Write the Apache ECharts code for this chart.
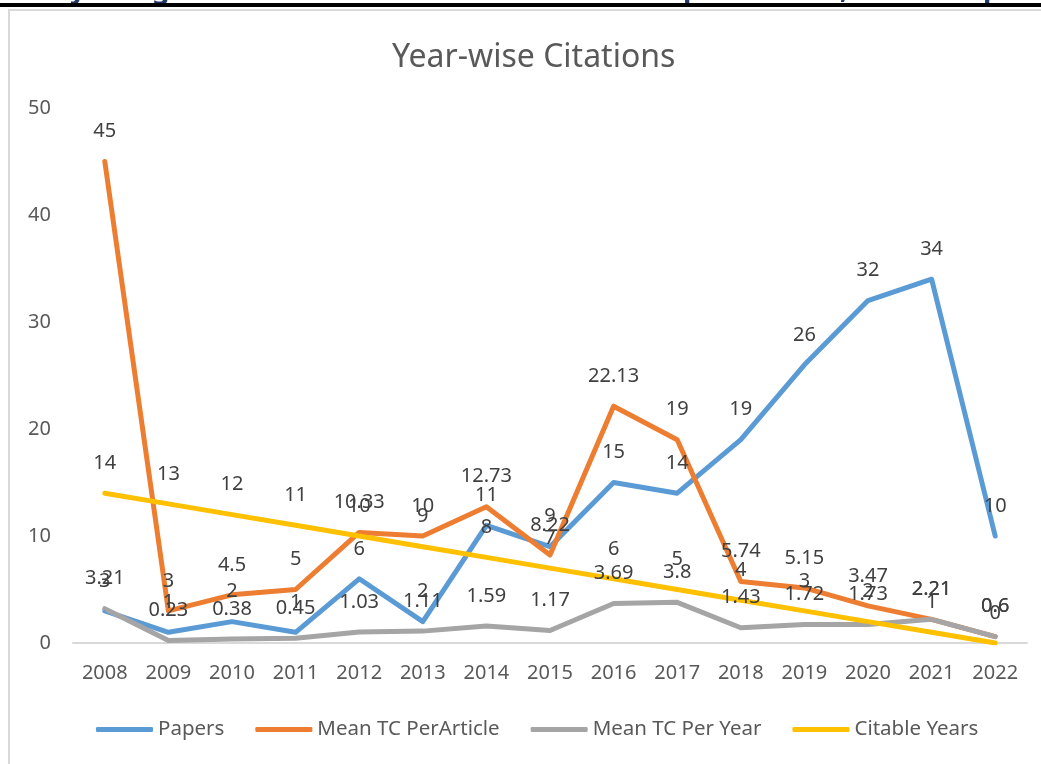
<!DOCTYPE html>
<html>
<head>
<meta charset="utf-8">
<script src="https://cdn.jsdelivr.net/npm/echarts@6/dist/echarts.min.js"></script>
<style>
html,body{margin:0;padding:0;background:#fff;}
#chart{width:1041px;height:764px;}
</style>
</head>
<body>
<div id="chart"></div>
<script>
const years = ['2008','2009','2010','2011','2012','2013','2014','2015','2016','2017','2018','2019','2020','2021','2022'];
const papers = [3,1,2,1,6,2,11,9,15,14,19,26,32,34,10];
const meanTCPerArticle = [45,3,4.5,5,10.33,10,12.73,8.22,22.13,19,5.74,5.15,3.47,2.21,0.6];
const meanTCPerYear = [3.21,0.23,0.38,0.45,1.03,1.11,1.59,1.17,3.69,3.8,1.43,1.72,1.73,2.21,0.6];
const citableYears = [14,13,12,11,10,9,8,7,6,5,4,3,2,1,0];
const yTicks = [0,10,20,30,40,50];

const FONT = '"Noto Sans", "Open Sans", sans-serif';
const chart = echarts.init(document.getElementById('chart'));

function mkSeries(name, data, color) {
  return {
    name: name,
    type: 'line',
    data: data,
    symbol: 'circle',
    symbolSize: 2,
    itemStyle: { color: color },
    lineStyle: { color: color, width: 5, cap: 'round', join: 'round' },
    label: {
      show: true,
      position: 'top',
      distance: 19,
      color: '#404040',
      fontSize: 20,
      fontFamily: FONT
    },
    emphasis: { disabled: true },
    animation: false
  };
}

chart.setOption({
  backgroundColor: '#ffffff',
  animation: false,
  title: {
    text: 'Year-wise Citations',
    left: 387,
    top: 37,
    textStyle: { color: '#595959', fontSize: 32, fontWeight: 'normal', fontFamily: FONT }
  },
  grid: { left: 73, right: 14, top: 108, bottom: 121, containLabel: false },
  legend: {
    top: 714,
    left: 91,
    icon: 'roundRect',
    itemWidth: 57,
    itemHeight: 5,
    itemGap: 31,
    textStyle: { color: '#595959', fontSize: 20.5, fontFamily: FONT },
    data: ['Papers', 'Mean TC PerArticle', 'Mean TC Per Year', 'Citable Years']
  },
  xAxis: {
    type: 'category',
    data: years,
    boundaryGap: true,
    axisTick: { show: false },
    axisLine: { lineStyle: { color: '#d9d9d9', width: 2 } },
    axisLabel: { color: '#595959', fontSize: 20, fontFamily: FONT, margin: 20, interval: 0 }
  },
  yAxis: {
    type: 'value',
    min: yTicks[0],
    max: yTicks[yTicks.length - 1],
    interval: yTicks[1] - yTicks[0],
    splitLine: { show: false },
    axisLine: { show: false },
    axisTick: { show: false },
    axisLabel: { color: '#595959', fontSize: 20, fontFamily: FONT, margin: 22 }
  },
  graphic: [
    { type: 'text', left: 70, top: -24, z: 1, style: { text: 'y', fill: '#1f3864', font: 'bold 28px ' + FONT } },
    { type: 'text', left: 152, top: -24, z: 1, style: { text: 'g', fill: '#1f3864', font: 'bold 28px ' + FONT } },
    { type: 'text', left: 683, top: -24, z: 1, style: { text: 'p', fill: '#1f3864', font: 'bold 28px ' + FONT } },
    { type: 'text', left: 840, top: -24, z: 1, style: { text: ',', fill: '#1f3864', font: 'bold 28px ' + FONT } },
    { type: 'text', left: 983, top: -24, z: 1, style: { text: 'p', fill: '#1f3864', font: 'bold 28px ' + FONT } },
    { type: 'rect', z: 5, shape: { x: 0, y: 3, width: 1041, height: 4 }, style: { fill: '#000000' } },
    { type: 'rect', z: 5, shape: { x: 8, y: 9, width: 1033, height: 2 }, style: { fill: '#d9d9d9' } },
    { type: 'rect', z: 5, shape: { x: 8, y: 9, width: 2, height: 755 }, style: { fill: '#d9d9d9' } }
  ],
  series: [
    mkSeries('Papers', papers, '#5B9BD5'),
    mkSeries('Mean TC PerArticle', meanTCPerArticle, '#ED7D31'),
    mkSeries('Mean TC Per Year', meanTCPerYear, '#A5A5A5'),
    mkSeries('Citable Years', citableYears, '#FFC000')
  ]
});
</script>
</body>
</html>
